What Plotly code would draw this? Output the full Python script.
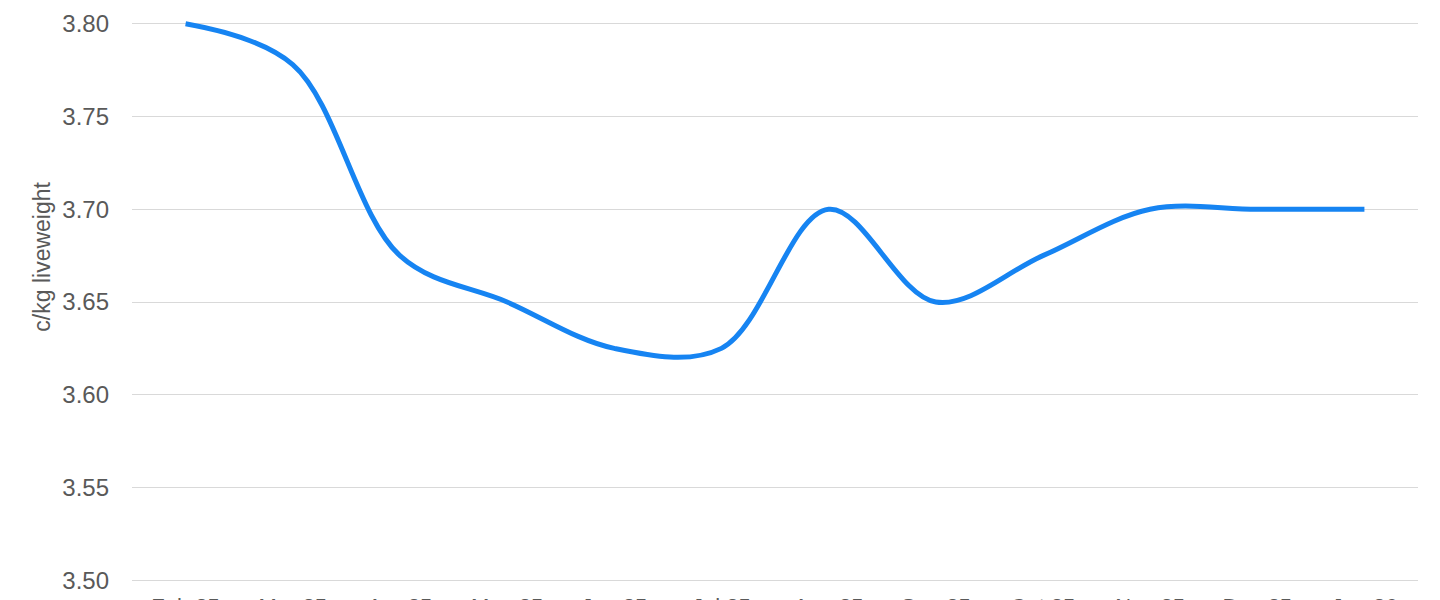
import plotly.graph_objects as go

months = ["Feb 25", "Mar 25", "Apr 25", "May 25", "Jun 25", "Jul 25",
          "Aug 25", "Sep 25", "Oct 25", "Nov 25", "Dec 25", "Jan 26"]
price = [3.80, 3.778, 3.675, 3.65, 3.625, 3.625, 3.70, 3.65, 3.675, 3.70, 3.70, 3.70]
y_title = "c/kg liveweight"

fig = go.Figure()
fig.add_trace(go.Scatter(
    x=months, y=price, mode="lines",
    line=dict(color="#1684F2", width=5, shape="spline", smoothing=1.0),
    showlegend=False, hoverinfo="x+y",
))

font_family = "Liberation Sans, Arial, sans-serif"
fig.update_layout(
    width=1432, height=592,
    margin=dict(l=124, r=22, t=13, b=17),
    paper_bgcolor="white", plot_bgcolor="white",
    font=dict(family=font_family, color="#595959", size=23),
    xaxis=dict(
        type="category", range=[-0.5, 11.5], automargin=False,
        showgrid=False, showline=False, zeroline=False,
        ticks="", tickfont=dict(size=22, color="#595959"),
        ticklabelstandoff=8,
    ),
    yaxis=dict(
        range=[3.4985, 3.8015], dtick=0.05, tick0=3.5, tickformat=".2f",
        automargin=False,
        showgrid=True, gridcolor="#d9d9d9", gridwidth=1,
        zeroline=False, showline=False, ticks="",
        tickfont=dict(size=24, color="#595959"),
        ticklabelstandoff=22,
    ),
    annotations=[dict(
        text=y_title, textangle=-90, showarrow=False,
        xref="paper", yref="paper", x=-0.0703, y=0.580,
        xanchor="center", yanchor="middle",
        font=dict(size=23, color="#595959", family=font_family),
    )],
)

fig.write_html("out.html")
